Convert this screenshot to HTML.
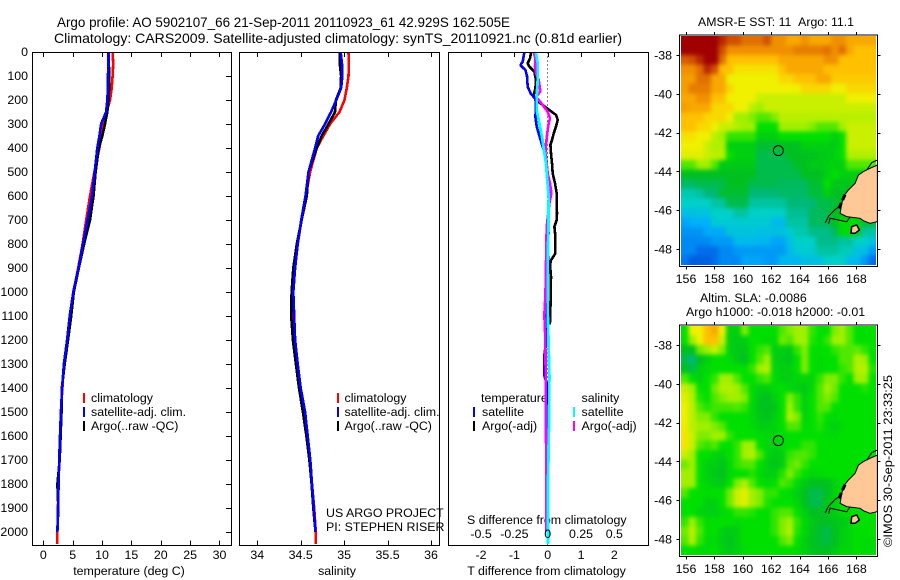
<!DOCTYPE html>
<html><head><meta charset="utf-8"><title>Argo profile</title>
<style>
html,body{margin:0;padding:0;background:#fff;}
svg{display:block;}
text{font-family:"Liberation Sans",sans-serif;font-size:12.4px;fill:#000;}
</style></head>
<body>
<svg id="chart" xmlns="http://www.w3.org/2000/svg" width="900" height="580" viewBox="0 0 900 580">
<defs>
<filter id="smooth" x="-5%" y="-5%" width="110%" height="110%" color-interpolation-filters="sRGB"><feGaussianBlur stdDeviation="2.2"/></filter>
<clipPath id="clip-sst"><rect x="681" y="36" width="195" height="229"/></clipPath>
<clipPath id="clip-sla"><rect x="681" y="326" width="195" height="229"/></clipPath>
</defs>
<rect width="900" height="580" fill="#fff"/>
<text x="57" y="27" style="font-size:14px" textLength="453" lengthAdjust="spacingAndGlyphs">Argo profile: AO 5902107_66 21-Sep-2011 20110923_61 42.929S 162.505E</text>
<text x="54" y="43" style="font-size:14px" textLength="568" lengthAdjust="spacingAndGlyphs">Climatology: CARS2009. Satellite-adjusted climatology: synTS_20110921.nc (0.81d earlier)</text>
<text x="698" y="26" textLength="156" lengthAdjust="spacingAndGlyphs">AMSR-E SST: 11&#160;&#160;Argo: 11.1</text>
<text x="700" y="302">Altim. SLA: -0.0086</text>
<text x="686" y="316">Argo h1000: -0.018 h2000: -0.01</text>
<text x="129" y="575" text-anchor="middle">temperature (deg C)</text>
<text x="337" y="575" text-anchor="middle">salinity</text>
<text x="546.500" y="575" text-anchor="middle">T difference from climatology</text>
<text x="467" y="524">S difference from climatology</text>
<text x="326" y="517">US ARGO PROJECT</text>
<text x="326" y="531">PI: STEPHEN RISER</text>
<text transform="translate(892,547) rotate(-90)" textLength="172" lengthAdjust="spacingAndGlyphs">©IMOS 30-Sep-2011 23:33:25</text>
<text x="91" y="402">climatology</text>
<text x="91" y="416">satellite-adj. clim.</text>
<text x="91" y="430">Argo(..raw -QC)</text>
<text x="344.500" y="402">climatology</text>
<text x="344.500" y="416">satellite-adj. clim.</text>
<text x="344.500" y="430">Argo(..raw -QC)</text>
<text x="481" y="402">temperature</text>
<text x="482" y="416">satellite</text>
<text x="482" y="430">Argo(-adj)</text>
<text x="581.500" y="402">salinity</text>
<text x="581.500" y="416">satellite</text>
<text x="581.500" y="430">Argo(-adj)</text>
</svg>
<script>
// ---------- chart data ----------
const depthTicks = [0,100,200,300,400,500,600,700,800,900,1000,1100,1200,1300,1400,1500,1600,1700,1800,1900,2000];
const tempTicks = [0,5,10,15,20,25,30];
const salTicks = [34,34.5,35,35.5,36];
const salTickLabels = ['34','34.5','35','35.5','36'];
const dTempTicks = [-2,-1,0,1,2];
const dSalTicks = [-0.5,-0.25,0,0.25,0.5];
const dSalTickLabels = ['-0.5','-0.25','0','0.25','0.5'];
const lonTicks = [156,158,160,162,164,166,168];
const latTicks = [-38,-40,-42,-44,-46,-48];

const profileDepth = [0,50,100,150,200,250,300,350,400,500,600,700,800,900,1000,1100,1200,1300,1400,1500,1600,1700,1800,1900,2000];
const tempClim = [11.8,11.9,11.8,11.65,11.35,10.8,10.2,9.95,9.55,8.7,7.95,7.3,6.7,5.95,5.1,4.55,4.1,3.5,3.25,3.0,2.9,2.75,2.55,2.5,2.4];
const tempSat = [11.1,11.1,11.0,11.0,10.9,10.7,9.85,9.55,9.2,8.75,8.3,7.55,6.75,6.0,5.1,4.5,4.05,3.5,3.2,3.0,2.85,2.7,2.6,2.5,2.4];
const tempArgo = [11.1,11.15,11.25,11.2,11.1,10.9,10.5,10.05,9.45,8.9,8.55,7.95,6.95,6.05,5.2,4.75,4.2,3.65,3.15,3.1,2.95,2.8,2.4,2.55,2.4];
const salClim = [35.05,35.054,35.05,35.03,35.004,34.946,34.838,34.76,34.685,34.608,34.56,34.51,34.465,34.42,34.40,34.41,34.42,34.455,34.49,34.53,34.57,34.6,34.63,34.655,34.673];
const salSat = [34.96,34.975,34.98,34.965,34.91,34.85,34.78,34.70,34.665,34.59,34.555,34.505,34.465,34.435,34.415,34.425,34.435,34.465,34.5,34.55,34.58,34.61,34.63,34.65,34.67];
const salArgo = [34.95,34.95,34.965,34.96,34.905,34.895,34.82,34.74,34.685,34.59,34.57,34.51,34.455,34.415,34.395,34.39,34.41,34.445,34.48,34.525,34.565,34.6,34.625,34.645,34.67];

const deepDepth = [2000,2050];
const tempClimDeep = [2.4,2.4];
const salClimDeep = [34.673,34.675];

const dTempSatDepth = [0,40,55,75,100,145,175,195,230,270,310,350,395,435,520,600,800,1000,1100,1200,1260,1350,1380,1600,2000];
const dTempSat = [-0.70,-0.75,-0.82,-0.67,-0.62,-0.60,-0.5,-0.37,-0.35,-0.37,-0.33,-0.25,-0.15,-0.05,0,0.03,0.02,0,-0.03,-0.03,-0.1,-0.1,-0.03,0,0];
const dTempArgoDepth = [3,26,47,61,82,117,151,179,200,221,242,262,283,311,339,367,387,422,464,506,547,589,631,672,700,728,769,839,867,887,936,1075,1120,1135];
const dTempArgo = [-0.5,-0.53,-0.6,-0.55,-0.4,-0.35,-0.37,-0.42,-0.35,-0.15,0.05,0.25,0.30,0.25,0.18,0.13,0.08,0.1,0.13,0.15,0.22,0.27,0.27,0.28,0.27,0.2,0.23,0.23,0.1,0.07,0.1,0.08,0.08,0.05];
const dSalSatDepth = [3,47,117,186,242,297,353,394,464,519,603,742,881,1075,1350,1550,1800,2050];
const dSalSat = [-0.0875,-0.075,-0.075,-0.0825,-0.0825,-0.0625,-0.0425,-0.0325,-0.0125,-0.005,0.0075,0.005,0,0,0.0125,0.01,0.0025,0.0025];
const dSalArgoDepth = [3,26,61,89,117,165,186,221,249,276,297,325,381,422,464,506,547,589,631,728,881,1019,1060,1100,1200,1400,1600,1800,2000];
const dSalArgo = [-0.105,-0.0925,-0.095,-0.0875,-0.0675,-0.055,-0.0875,-0.0375,0,0.0175,0.0075,0,-0.0125,-0.0175,-0.0075,0,0.0175,0.0275,0.0125,-0.0075,-0.0125,-0.0175,-0.0225,-0.025,-0.0175,-0.015,-0.0125,-0.01,-0.01];

const sstGrid = [
[12,12,12,12,12,11.5,11,11,10.5,10.5,10.5,11,10,10,9.5,9.5,10,9.5,9.5,9.5,10,10,9.5,9.5,9.5,9.5],
[12,12,12,12,12,11,10,10,10,10,10,10,10,10,10,10.3,10.3,10.3,10.3,10.5,10,10.5,9.5,9,9,9],
[10.8,11,11.5,12,12,10.5,9,9,9,9,9,9,9,9.5,9.5,9.5,9.5,9.5,9.5,10,10,9,9,9,9,9],
[10,10,10.5,11.5,11,9,9,8.3,8.3,8.3,8.3,8.3,8.3,9,9.5,9.5,9.5,9.5,9.5,9,9,9,9,9,9,9],
[9.7,9.7,10.5,10.5,9.5,9.5,8,8,8,8,8,8,8,8.5,8.5,9,9,9,9.5,9.5,8.8,8.8,8.8,8.8,8.8,8.8],
[9.7,10.3,10.3,10.3,9.5,9.5,8.5,8,8,8,8,8,8,8,8,8,8.5,8.5,8.5,8.5,8,8,8.5,8.5,8.5,8.5],
[9.5,9.5,10,10,9,9,8,8,8,8,7.5,7.5,7.5,7.5,7.5,7.5,7.5,7.5,7.5,7.5,7.5,7.5,8,8,8,8],
[9.7,9.5,9.5,9.5,8.5,8.5,8.5,8,8,7.3,7,7.5,7.5,7.5,7.5,7.5,7.5,7.5,7.5,7.5,7.5,7.5,7.5,7.5,7.5,7.5],
[9,9,9,8.5,8.5,8.5,8,7,7,6.8,6.5,6.5,6.8,7.3,7.3,7.3,7.3,7.3,7.3,7.3,7.3,7.3,7.3,7.3,7.3,7.3],
[9,9,8.5,8.5,8,7.5,7.5,7.2,7,7,6,6,6,7,7,7,7,6.8,6.5,6.5,6.5,7,7.5,7.5,7.5,7.5],
[8.3,8.3,8,8,7.3,7,6.3,6.3,6.3,6.3,5.5,5.5,5.5,6,6,6,6,6,6,6,5.5,6,7.5,7.5,7.5,7.5],
[8,8,8,7.5,7.2,7.2,5.5,5.5,5.5,5.5,4.8,4.8,4.8,5,5,5,5.5,5.5,5.5,5.5,5.3,6,7.5,7.5,7.5,7.5],
[7.8,7.8,7.8,7.5,7.3,7.3,6,5.5,5.5,5.5,4.5,4.5,4.5,4.5,5,5,5,5,5.3,5.3,5.5,6,7.2,7.2,7.2,7.2],
[6.5,6.5,7,7,6.5,5.3,5.3,5.3,5.3,5.3,4.5,4.5,4.5,4.5,4.5,5,5,5.3,5.3,5.5,5.5,5.5,6.5,6.5,6.5,6.5],
[5,5,5,5,5,5,5,5,5,5,4.5,4.5,4.5,4.5,4.5,4.5,5,5,5,5.5,6,5.5,5.5,5.5,5.5,5.5],
[4.2,4.2,4.5,4.5,4.5,4.5,5,5,5,4.5,4.5,4.5,4.5,4.3,4.3,4.3,4.3,4.8,4.8,6,5.2,5.2,5.2,5.2,5.2,5.2],
[3.3,3.3,3.5,4,4,4.8,4.8,4.8,4.8,4,4,4,4,4.2,4.2,4.2,4.2,4.7,4.7,5.5,5,5,5,5,5,5],
[3,3,3,3,3.5,3.5,4.5,4.5,4.5,3.5,3.5,3.5,3.5,3.5,4,4,4,4,4.5,4.5,4.7,5,5,5,5,5],
[2.5,2.5,2.6,2.6,3,3,3,3.5,3.5,3,3,3,3,3,3.7,3.7,3.7,4.3,4.3,4.5,5,5,5,5,5,5],
[1.8,2,2,2,2.8,2.8,2.8,2.8,2.8,2.8,2.8,2.8,2.3,2.3,3.5,3.5,3.5,4.3,4.3,4.3,5,5.8,5.8,5.8,4.8,4.5],
[1.5,1.5,1.5,1.9,1.9,1.9,2.6,2.6,2.6,2.6,2.5,2.5,2.5,2.5,2.8,3.3,3.3,3.8,3.8,3.8,4.3,5.8,5.8,5.5,3.5,3.5],
[1.3,1.3,1.3,1.3,1.6,1.6,1.6,2.3,2.3,2.3,2.2,2.2,1.8,1.8,2.5,3,3,3,3.8,3.8,3.8,3.5,3.5,3,3,2.5],
[1.3,1.3,0.8,0.8,0.8,1.3,1.3,1.6,1.6,1.6,1.6,1.6,1.6,1.6,2.3,2.8,2.8,2.8,3.5,3.5,3.5,3.2,3.2,2.5,2.5,1.6],
[1,0.5,0.5,0.5,0.8,1.3,1.3,1.3,1.8,1.8,1.8,1.6,1.6,2.2,2.2,2.2,2.5,2.5,2.5,3,3,3,2.3,2.3,1.6,0.8]
];
const slaGrid = [
[6,8,8,9,9.5,8,5.5,5.5,6.8,6,6,6,6,6.5,6.8,7,7,6.3,6,6,6.8,7,6.5,6,6,6],
[6,7,8,9,9,7.5,5.5,5.3,5.5,6,6,5.8,5.8,6.7,6.5,7,7,6.2,6,6.3,7,7,6.5,6,6,6],
[5,5,6.7,7,7.5,6.8,5.5,5.3,5.2,6,6.3,6.5,5.5,5.5,5.3,6.3,6.8,6,6,6,6.3,6.5,6.5,6.6,6.3,6],
[4.5,4,5,5.5,6,6,5.8,5.3,5,6,6.5,7,5.5,5.3,5.2,6,6.8,6,5.8,6,6,6.5,6.5,7.2,7,6],
[5,4.5,5.5,5.8,6,6,6,6,6,6.3,7,7.2,5.7,5.5,5.5,6,6.8,6,5.8,6,6,6.3,6.5,7.2,7.3,6.2],
[6.5,6,5.5,6,6.3,7,7,6.5,6,6,6.3,6.5,5.8,5.5,5.5,5.7,5.7,5.7,6.3,6.8,6.8,6.3,6,7,7,6],
[7.5,7,6,6,6.7,7.2,7.2,7,6.5,5.8,5.5,5.5,5.8,6,5.7,5.5,5.3,5.8,6.5,7,6.7,6,6,6,6.2,6],
[7.8,7.2,6.2,6,6.5,6.8,7,7,6.8,5.8,5.2,5,5.5,6,6.8,6.3,5.5,6,6.5,6.8,6.5,6,6,6,6,6],
[8,7.3,6.5,6.2,6.4,6.4,6.4,6.5,6.3,5.7,5.1,5,5.2,6,7,6.3,5.5,6,6.5,6.5,6,6,6,6,6,6],
[8,7.3,6.8,6.8,6.3,6,6,6,6,5.7,5.3,5.1,5.5,6,7.2,6.8,5.7,6,6.3,6,5.8,6,6,6,6,6],
[8.1,7.3,7,7,6.8,6.5,6,6,6,5.8,5.5,5.5,5.6,6,6.5,6.5,5.8,6,6.2,5.8,5.5,5.8,6,6,6,6],
[8.2,7.5,6.8,6.8,7,7,6.3,6,6,6,5.8,5.7,5.6,5.8,6,6,6,6,6,5.8,5.8,6,6,6,6,6],
[8.2,7.5,6.5,6.3,6.5,6,6,6.3,7,7,6,5.7,5.5,5.8,6,6,6.3,6.3,6,6,6,6,6,6,6,6],
[7.5,7,6,6,5.7,5.5,6,6.3,7,7.2,6.5,5.7,5.3,5.5,6.3,6.5,6.5,6.3,6,6,6,6,6,6,6,6],
[6.7,7,6,5.5,5.5,5.2,5.8,6.3,6.5,6.5,6,5.5,5.2,5.5,6.5,6.7,6.3,6,6,6,6,6,6,6,6,6],
[7,7,6,5.5,5.3,5,5.8,6,6,6.2,5.8,5.5,5.5,6.2,6.8,6.3,6,5.7,5.8,6,6,6,6,6,6,6],
[7,7,6,5.7,5.5,5.3,6,6.8,7.2,6.5,6,5.8,6,6.5,6.3,5.8,5.3,5,5,5,5.5,6,6,6,6,6],
[6.5,6,6,5.8,6,6,6.7,7.5,7.8,7,6.8,6.3,6.3,6,5.8,5.5,5,4.5,4.5,5,5.5,6,6,6,6,6],
[6,6,6,5.5,5.5,6,6.7,7.5,7.8,7,6.8,6.2,6,6,6,5.7,5,4.5,4.5,5.2,5.5,6,6,6,6,6],
[6,6,5.6,5.5,5.5,5.8,6,6.3,6.3,6.2,6,6,6.3,6.5,6.5,6,5.5,5,5,5.2,5.5,5.8,6,6,6,6],
[6.3,7,6.3,5.8,6,6,6,5.8,6,6,6,6,6.3,6.8,7,6.3,5.7,5.3,5,5,5.2,5.3,5.5,6,6,6],
[6.7,7.3,6.5,6,6,5.5,5.3,5.5,6,6,6,6,6.3,6.8,7.2,6.2,5.7,5.2,4.8,4.5,5,5.5,5.7,6,6,6],
[6.5,7.2,6.3,5.8,5.8,5.4,5.2,5.5,6,6,6,6,6,6.5,6.8,6,5.5,5.1,4.8,4.6,5,5.5,5.7,6,5.8,5.8],
[6,6,5.8,5.8,6,5.5,5.3,5.5,5.8,6,6,6,6,6,6,5.8,5.5,5.2,5,5,5.3,5.7,5.7,6,5.8,5.8]
];
const colormap = ['#0048d0','#0078f0','#00b0fa','#00d0c8','#00b878','#00c020','#00e000','#a0f000','#f0f000','#ffc000','#f09000','#d05000','#a00000'];

const landLon = [169.48,168.96,168.49,168.14,167.91,167.44,167.08,166.97,166.85,167.32,168.26,168.49,168.96,169.48];
const landLat = [-43.67,-43.84,-44.01,-44.19,-44.62,-44.96,-45.30,-45.65,-46.16,-46.33,-46.42,-46.54,-46.68,-46.59];
const islandLon = [167.67,168.02,168.21,167.91,167.62];
const islandLat = [-46.85,-46.76,-47.02,-47.19,-47.19];
const fjordLon = [167.2,166.95,166.7];
const fjordLat = [-45.2,-45.60,-46.05];
const coastNorthLon = [169.48,169.08,168.73];
const coastNorthLat = [-43.41,-43.55,-43.93];
const coastWestLon = [165.80,166.04,166.50,166.97];
const coastWestLat = [-46.66,-46.31,-45.97,-45.70];
const coastSouthLon = [166.04,166.15,167.32,167.55];
const coastSouthLat = [-46.70,-46.41,-46.60,-46.35];
const argoLon = 162.505;
const argoLat = -42.929;

// ---------- axis functions ----------
const svg = document.getElementById('chart');
const NS = 'http://www.w3.org/2000/svg';
function mk(tag, attrs, text, parent) {
  const el = document.createElementNS(NS, tag);
  for (const k in attrs) el.setAttribute(k, attrs[k]);
  if (text !== undefined && text !== null) el.textContent = text;
  (parent || svg).appendChild(el);
  return el;
}
const yDepth = p => 52 + p * 0.24;
const xTemp = t => 43.3 + t * 5.873;
const xSal = s => 257.3 + (s - 34) * 86.85;
const xDT = d => 547.7 + d * 33.33;
const xDS = d => 547.7 + d * 133.3;
const xLon = lon => 686 + (lon - 156) * 14.2;
const yLat = (lat, top) => top + 20 + (-38 - lat) * 19.4;

function poly(xs, ys, fx, fy) {
  return xs.map((v, i) => fx(v).toFixed(1) + ',' + fy(ys[i]).toFixed(1)).join(' ');
}

// ---------- maps ----------
function drawMap(grid, top, prefix, clipId) {
  const colW = 195 / grid[0].length;
  const rowH = 229 / grid.length;
  const gridLeft = 681, gridTop = top + 1, pad = 8;
  function mix(v) {
    const lo = Math.max(0, Math.min(colormap.length - 2, Math.floor(v)));
    const f = Math.max(0, Math.min(1, v - lo));
    const a = colormap[lo], b = colormap[lo + 1];
    const c = [1, 3, 5].map(i => Math.round(parseInt(a.substr(i, 2), 16) * (1 - f) + parseInt(b.substr(i, 2), 16) * f));
    return 'rgb(' + c.join(',') + ')';
  }
  const clipG = mk('g', {'clip-path': 'url(#' + clipId + ')'});
  
  
  const blurG = mk('g', {filter: 'url(#smooth)'}, null, clipG);
  const nr = grid.length, nc = grid[0].length;
  grid.forEach((row, r) => row.forEach((v, c) => {
    const x0 = gridLeft + c * colW - (c === 0 ? pad : 0);
    const x1 = gridLeft + (c + 1) * colW + (c === nc - 1 ? pad : 0);
    const y0 = gridTop + r * rowH - (r === 0 ? pad : 0);
    const y1 = gridTop + (r + 1) * rowH + (r === nr - 1 ? pad : 0);
    const cell = mk('rect', {x: x0, y: y0, width: x1 - x0 + 0.4, height: y1 - y0 + 0.4, fill: mix(v), 'shape-rendering': 'crispEdges'}, null, blurG);
    
    
  }));
  const fy = lat => yLat(lat, top);
  const land = mk('polygon', {points: poly(landLon, landLat, xLon, fy), fill: '#ffc896', stroke: '#000', 'stroke-width': 1});
  
  
  const island = mk('polygon', {points: poly(islandLon, islandLat, xLon, fy), fill: '#ffc896', stroke: '#000', 'stroke-width': 1.5});
  
  
  const fjord = mk('polyline', {points: poly(fjordLon, fjordLat, xLon, fy), fill: 'none', stroke: '#000', 'stroke-width': 3, 'stroke-dasharray': '6 3'});
  
  
  [[coastNorthLon, coastNorthLat, 'north'], [coastWestLon, coastWestLat, 'west'], [coastSouthLon, coastSouthLat, 'south']].forEach(s => {
    const coast = mk('polyline', {points: poly(s[0], s[1], xLon, fy), fill: 'none', stroke: '#000', 'stroke-width': 1});
    
    
  });
  const marker = mk('circle', {cx: xLon(argoLon), cy: fy(argoLat), r: 5, fill: 'none', stroke: '#000', 'stroke-width': 1});
  
  
  const frame = mk('rect', {x: 679.5, y: top, width: 198, height: 231.5, fill: 'none', stroke: '#000', 'stroke-width': 1, 'shape-rendering': 'crispEdges'});
  
  
  lonTicks.forEach(lon => {
    const x = Math.round(xLon(lon)) + 0.5;
    [[top, top - 3], [top + 231.5, top + 234.5]].forEach(t => {
      const tick = mk('line', {x1: x, x2: x, y1: t[0], y2: t[1], stroke: '#000', 'shape-rendering': 'crispEdges'});
      
      
    });
    const lab = mk('text', {x: xLon(lon), y: top + 248, 'text-anchor': 'middle'}, String(lon));
    
    
  });
  latTicks.forEach(lat => {
    const y = Math.round(fy(lat)) + 0.5;
    [[679.5, 676.5], [877.5, 880.5]].forEach(t => {
      const tick = mk('line', {x1: t[0], x2: t[1], y1: y, y2: y, stroke: '#000', 'shape-rendering': 'crispEdges'});
      
      
    });
    const lab = mk('text', {x: 672, y: fy(lat) + 4.500, 'text-anchor': 'end'}, String(lat));
    
    
  });
}
drawMap(sstGrid, 35, 'sst-map', 'clip-sst');
drawMap(slaGrid, 325, 'sla-map', 'clip-sla');

// ---------- profile panels ----------
function drawSeries(vals, depths, fx, color, name, w) {
  const line = mk('polyline', {points: poly(vals, depths, fx, yDepth), fill: 'none', stroke: color, 'stroke-width': w || 2.6, 'stroke-linejoin': 'bevel', 'shape-rendering': 'crispEdges'});
  
  
}
function drawPanel(left, right, name) {
  const frame = mk('rect', {x: left, y: 52.5, width: right - left, height: 493, fill: 'none', stroke: '#000', 'stroke-width': 1, 'shape-rendering': 'crispEdges'});
  
  
}
function xTicks(values, labels, fx, y, name, doBottom, doLabel) {
  values.forEach((v, i) => {
    const x = Math.round(fx(v)) + 0.5;
    const top = mk('line', {x1: x, x2: x, y1: 52.5, y2: 57, stroke: '#000', 'shape-rendering': 'crispEdges'});
    
    
    if (doBottom) {
      const bot = mk('line', {x1: x, x2: x, y1: 540.5, y2: 545.5, stroke: '#000', 'shape-rendering': 'crispEdges'});
      
      
    }
    if (doLabel) {
      const lab = mk('text', {x: fx(v), y: y, 'text-anchor': 'middle'}, labels[i]);
      
      
    }
  });
}
function legendMark(x, y, color, name) {
  const m = mk('rect', {x: x, y: y, width: 2, height: 10, fill: color, 'shape-rendering': 'crispEdges'});
  
  
}

// temperature panel
drawSeries(tempClimDeep, deepDepth, xTemp, '#ff0000', 'temperature-climatology-deep');
drawSeries(tempClim, profileDepth, xTemp, '#ff0000', 'temperature-climatology-line');
drawSeries(tempArgo, profileDepth, xTemp, '#000000', 'temperature-argo-line');
drawSeries(tempSat, profileDepth, xTemp, '#0000ff', 'temperature-satellite-line');
drawPanel(32.5, 231.5, 'temperature-panel');
xTicks(tempTicks, tempTicks.map(String), xTemp, 559, 'temperature-axis', true, true);
depthTicks.forEach(p => {
  const y = Math.round(yDepth(p)) + 0.5;
  const tick = mk('line', {x1: 226, x2: 231.5, y1: y, y2: y, stroke: '#000', 'shape-rendering': 'crispEdges'});
  
  
  const lab = mk('text', {x: 28, y: yDepth(p) + 4, 'text-anchor': 'end'}, String(p));
  
  
});

// salinity panel
drawSeries(salClimDeep, deepDepth, xSal, '#ff0000', 'salinity-climatology-deep');
drawSeries(salClim, profileDepth, xSal, '#ff0000', 'salinity-climatology-line');
drawSeries(salArgo, profileDepth, xSal, '#000000', 'salinity-argo-line');
drawSeries(salSat, profileDepth, xSal, '#0000ff', 'salinity-satellite-line');
drawPanel(239.5, 439.5, 'salinity-panel');
xTicks(salTicks, salTickLabels, xSal, 559, 'salinity-axis', true, true);

// difference panel
const zeroLine = mk('line', {x1: xDT(0), x2: xDT(0), y1: 52.5, y2: 545, stroke: '#000', 'stroke-width': 1, 'stroke-dasharray': '1 3', 'shape-rendering': 'crispEdges'});


drawSeries(dTempArgo, dTempArgoDepth, xDT, '#000000', 'difference-t-argo-line');
drawSeries(dTempSat, dTempSatDepth, xDT, '#0000ff', 'difference-t-satellite-line');
drawSeries(dSalArgo, dSalArgoDepth, xDS, '#ff00ff', 'difference-s-argo-line');
drawSeries(dSalSat, dSalSatDepth, xDS, '#00ffff', 'difference-s-satellite-line', 2.8);
drawPanel(448.5, 648.5, 'difference-panel');
xTicks(dTempTicks, dTempTicks.map(String), xDT, 559, 'difference-t-axis', false, true);
dSalTicks.forEach((v, i) => {
  const lab = mk('text', {x: xDS(v), y: 538, 'text-anchor': 'middle'}, dSalTickLabels[i]);
  
  
});

// legend swatches
[[83, '#ff0000', 393], [83, '#0000ff', 407], [83, '#000000', 421]].forEach((m, i) => legendMark(m[0], m[2], m[1], 'legend-t-swatch-' + i));
[[337, '#ff0000', 393], [337, '#0000ff', 407], [337, '#000000', 421]].forEach((m, i) => legendMark(m[0], m[2], m[1], 'legend-s-swatch-' + i));
[[473, '#0000ff', 407], [473, '#000000', 421], [573, '#00ffff', 407], [573, '#ff00ff', 421]].forEach((m, i) => legendMark(m[0], m[2], m[1], 'legend-diff-swatch-' + i));
</script>
</body></html>
